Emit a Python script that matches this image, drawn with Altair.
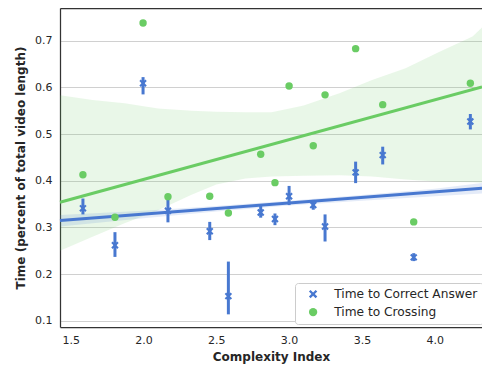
import altair as alt
import pandas as pd
import numpy as np

# ---- data ----
complexity = [1.584, 1.804, 1.997, 2.168, 2.455, 2.583, 2.805, 2.903, 3.000, 3.166, 3.247, 3.457, 3.643, 3.856, 4.245]
correct_mean = [0.341, 0.262, 0.609, 0.336, 0.292, 0.153, 0.332, 0.318, 0.367, 0.348, 0.302, 0.418, 0.455, 0.236, 0.527]
correct_lo = [0.328, 0.237, 0.585, 0.311, 0.273, 0.114, 0.321, 0.305, 0.348, 0.338, 0.270, 0.395, 0.435, 0.228, 0.510]
correct_hi = [0.362, 0.290, 0.622, 0.365, 0.312, 0.227, 0.348, 0.330, 0.389, 0.359, 0.328, 0.441, 0.473, 0.245, 0.543]
crossing = [0.413, 0.322, 0.738, 0.366, 0.367, 0.331, 0.457, 0.396, 0.603, 0.475, 0.584, 0.683, 0.563, 0.312, 0.609]

fit_x = [1.4265, 4.380]
correct_fit = [0.315, 0.384]
crossing_fit = [0.354, 0.601]

green_band_x = [1.4265, 1.65, 1.87, 2.10, 2.33, 2.50, 2.70, 2.88, 3.10, 3.35, 3.57, 3.80, 4.03, 4.26, 4.380]
green_band_lo = [0.250, 0.280, 0.309, 0.337, 0.370, 0.392, 0.405, 0.409, 0.411, 0.412, 0.409, 0.403, 0.398, 0.397, 0.396]
green_band_hi = [0.583, 0.573, 0.566, 0.555, 0.550, 0.548, 0.547, 0.547, 0.561, 0.588, 0.616, 0.641, 0.676, 0.709, 0.728]

blue_band_x = [1.4265, 2.0, 2.5, 3.0, 3.5, 4.0, 4.380]
blue_band_lo = [0.302, 0.320, 0.334, 0.347, 0.3575, 0.367, 0.373]
blue_band_hi = [0.327, 0.336, 0.346, 0.357, 0.3695, 0.383, 0.395]

series_names = ["Time to Correct Answer", "Time to Crossing"]
BLUE = "#4878d0"
GREEN = "#6acc64"
SPINE = "#333333"

x_ticks = [1.5, 2.0, 2.5, 3.0, 3.5, 4.0]
y_ticks = [0.1, 0.2, 0.3, 0.4, 0.5, 0.6, 0.7]

# ---- X marker shape (filled polygon) ----
w = 0.25
pts = [(w, 1), (w, w), (1, w), (1, -w), (w, -w), (w, -1), (-w, -1), (-w, -w), (-1, -w), (-1, w), (-w, w), (-w, 1)]
s = (1 + w) / np.sqrt(2)
rot = [((a - b) / np.sqrt(2) / s, (a + b) / np.sqrt(2) / s) for a, b in pts]
xpath = "M" + "L".join(f"{a:.3f},{b:.3f}" for a, b in rot) + "Z"

# ---- tables ----
pts_df = pd.DataFrame({
    "x": complexity + complexity,
    "y": correct_mean + crossing,
    "series": [series_names[0]] * len(complexity) + [series_names[1]] * len(complexity),
})
err_df = pd.DataFrame({"x": complexity, "lo": correct_lo, "hi": correct_hi})
bfit_df = pd.DataFrame({"x": fit_x, "y": correct_fit})
gfit_df = pd.DataFrame({"x": fit_x, "y": crossing_fit})
gband_df = pd.DataFrame({"x": green_band_x, "lo": green_band_lo, "hi": green_band_hi})
bband_df = pd.DataFrame({"x": blue_band_x, "lo": blue_band_lo, "hi": blue_band_hi})

xs = alt.Scale(domain=[1.4265, 4.325], nice=False, zero=False, clamp=True)
ys = alt.Scale(domain=[0.0869, 0.770], nice=False, zero=False)

x_axis = alt.Axis(values=x_ticks, format=".1f", title="Complexity Index", labelPadding=7, titlePadding=6,
                  domain=True, domainColor=SPINE, domainWidth=1.25)
y_axis = alt.Axis(values=y_ticks, format=".1f", title="Time (percent of total video length)",
                  labelPadding=8, titlePadding=7, domain=True, domainColor=SPINE, domainWidth=1.25)
top_axis = alt.Axis(orient="top", labels=False, ticks=False, grid=False, title=None,
                    domain=True, domainColor=SPINE, domainWidth=1.25)


def xq(field="x"):
    return alt.X(f"{field}:Q", scale=xs, axis=None)


def yq(field):
    return alt.Y(f"{field}:Q", scale=ys, axis=y_axis)


gband = alt.Chart(gband_df).mark_area(color=GREEN, opacity=0.15).encode(x=xq(), y=yq("lo"), y2="hi:Q")
bband = alt.Chart(bband_df).mark_area(color=BLUE, opacity=0.15).encode(x=xq(), y=yq("lo"), y2="hi:Q")
gline = alt.Chart(gfit_df).mark_line(strokeWidth=3, color=GREEN).encode(x=xq(), y=yq("y"))
bline = alt.Chart(bfit_df).mark_line(strokeWidth=3, color=BLUE).encode(x=xq(), y=yq("y"))
err = alt.Chart(err_df).mark_rule(strokeWidth=3, color=BLUE).encode(x=xq(), y=yq("lo"), y2="hi:Q")

color_scale = alt.Scale(domain=series_names, range=[BLUE, GREEN])
shape_scale = alt.Scale(domain=series_names, range=[xpath, "circle"])

legend = alt.Legend(title=None, orient="none", legendX=235, legendY=275,
                    fillColor="white", strokeColor="#cccccc", cornerRadius=3, padding=5,
                    labelFontSize=12.2, labelFont="DejaVu Sans", labelColor="#262626",
                    symbolSize=70, rowPadding=5, symbolOffset=7, labelOffset=15,
                    symbolOpacity=1, symbolStrokeWidth=0)

points = alt.Chart(pts_df).mark_point(filled=True, size=55, opacity=1, strokeWidth=0).encode(
    x=alt.X("x:Q", scale=xs, axis=x_axis), y=yq("y"),
    color=alt.Color("series:N", scale=color_scale, legend=legend),
    shape=alt.Shape("series:N", scale=shape_scale, legend=legend),
)

top = alt.Chart(pts_df).mark_point(opacity=0).encode(
    x=alt.X("x:Q", scale=xs, axis=top_axis), y=yq("y"))

chart = alt.layer(gband, bband, gline, bline, err, points, top).resolve_axis(x="independent").properties(
    width=422, height=319,
    autosize=alt.AutoSizeParams(type="none"),
    padding={"left": 52, "top": 0, "right": 0, "bottom": 40},
).configure_view(
    stroke=None
).configure_axis(
    labelFont="DejaVu Sans", labelFontSize=11, labelColor="#262626",
    titleFont="DejaVu Sans", titleFontSize=12, titleFontWeight="bold", titleColor="#262626",
    gridColor="#d0d0d0", gridWidth=1, ticks=False,
)

chart.save("out.html", embed_options={"renderer": "svg", "actions": False})
